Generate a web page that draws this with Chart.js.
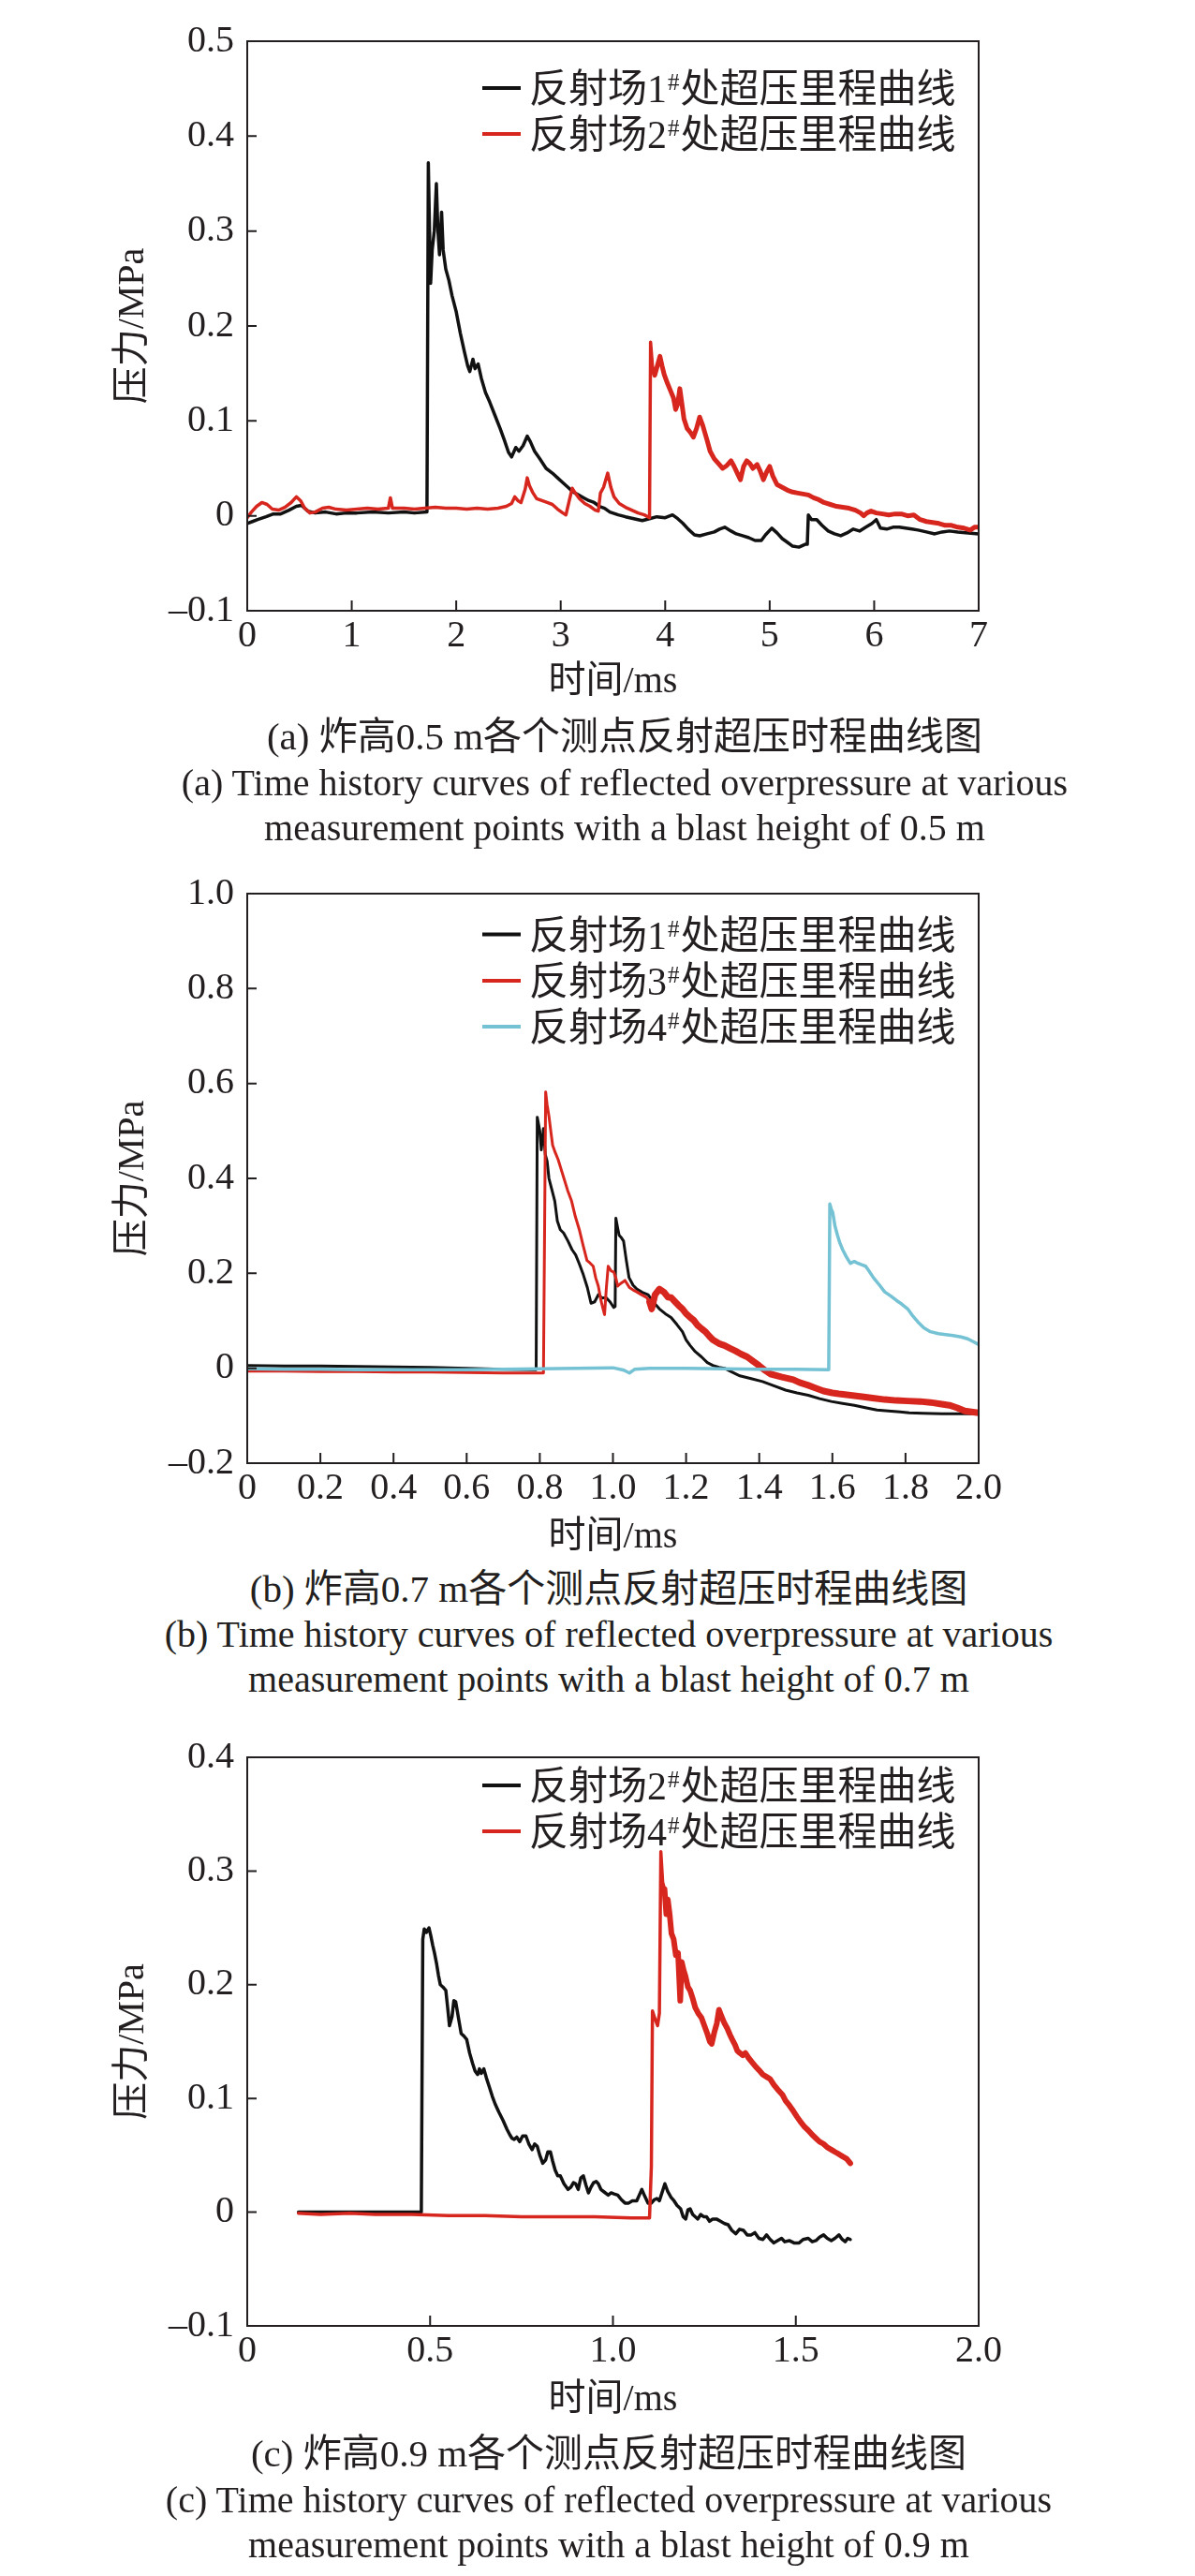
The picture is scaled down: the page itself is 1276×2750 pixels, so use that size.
<!DOCTYPE html>
<html><head><meta charset="utf-8">
<script src="https://cdn.jsdelivr.net/npm/chart.js@4.4.1/dist/chart.umd.min.js"></script>
<style>
html,body{margin:0;padding:0;background:#fff;}
#page{position:relative;width:1276px;height:2750px;overflow:hidden;}
canvas{position:absolute;left:0;}
.cap{position:absolute;width:1276px;text-align:center;color:#231f20;font-family:"Liberation Serif","Noto Sans CJK SC",serif;white-space:nowrap;}
.cn{font-size:41px;line-height:41px;}
.en{font-size:40px;line-height:40px;}
</style></head><body>
<div id="page">
<canvas id="ca" width="1276" height="770" style="top:0px;width:1276px;height:770px"></canvas>
<canvas id="cb" width="1276" height="770" style="top:900px;width:1276px;height:770px"></canvas>
<canvas id="cc" width="1276" height="770" style="top:1830px;width:1276px;height:770px"></canvas>
<div class="cap cn" style="left:29px;top:766px">(a) 炸高0.5 m各个测点反射超压时程曲线图</div>
<div class="cap en" style="left:29px;top:816px">(a) Time history curves of reflected overpressure at various</div>
<div class="cap en" style="left:29px;top:864px">measurement points with a blast height of 0.5 m</div>
<div class="cap cn" style="left:12px;top:1676px">(b) 炸高0.7 m各个测点反射超压时程曲线图</div>
<div class="cap en" style="left:12px;top:1725px">(b) Time history curves of reflected overpressure at various</div>
<div class="cap en" style="left:12px;top:1773px">measurement points with a blast height of 0.7 m</div>
<div class="cap cn" style="left:12px;top:2599px">(c) 炸高0.9 m各个测点反射超压时程曲线图</div>
<div class="cap en" style="left:12px;top:2649px">(c) Time history curves of reflected overpressure at various</div>
<div class="cap en" style="left:12px;top:2697px">measurement points with a blast height of 0.9 m</div>
</div>
<script>
// ---------------- DATA ----------------
const xTitle = '时间/ms';
const yTitle = '压力/MPa';

// (a) blast height 0.5 m
const aLabels = ['反射场1#处超压里程曲线', '反射场2#处超压里程曲线'];
const aXTicks = [0, 1, 2, 3, 4, 5, 6, 7];
const aXTickLabels = ['0', '1', '2', '3', '4', '5', '6', '7'];
const aYTicks = [-0.1, 0, 0.1, 0.2, 0.3, 0.4, 0.5];
const aYTickLabels = ['–0.1', '0', '0.1', '0.2', '0.3', '0.4', '0.5'];
const aT1 = [0.00,0.05,0.10,0.18,0.25,0.32,0.40,0.47,0.52,0.58,0.65,0.75,0.85,0.95,1.05,1.20,1.35,1.50,1.60,1.72,
  1.733,1.745,1.755,1.77,1.79,1.81,1.825,1.84,1.86,1.875,1.90,1.93,1.96,2.00,2.04,2.08,2.11,2.13,2.16,2.18,
  2.21,2.24,2.28,2.32,2.37,2.42,2.46,2.50,2.53,2.57,2.60,2.64,2.68,2.71,2.75,2.80,2.86,2.92,2.97,3.02,
  3.07,3.12,3.17,3.22,3.27,3.32,3.37,3.42,3.47,3.55,3.62,3.70,3.78,3.85,3.92,4.00,4.07,4.12,4.17,4.22,
  4.28,4.33,4.40,4.47,4.52,4.57,4.63,4.68,4.74,4.80,4.86,4.92,4.96,5.02,5.07,5.12,5.17,5.22,5.28,5.34,
  5.36,5.37,5.40,5.45,5.50,5.56,5.62,5.68,5.74,5.80,5.86,5.92,5.98,6.02,6.06,6.12,6.18,6.24,6.30,6.36,
  6.42,6.50,6.58,6.65,6.72,6.80,6.90,7.00];
const aP1 = [-0.008,-0.006,-0.004,-0.001,0.002,0.002,0.006,0.010,0.011,0.005,0.003,0.004,0.002,0.003,0.003,0.004,0.003,0.004,0.003,0.004,
  0.372,0.300,0.245,0.280,0.300,0.350,0.300,0.275,0.320,0.280,0.260,0.248,0.232,0.215,0.192,0.172,0.158,0.152,0.165,0.155,
  0.160,0.145,0.130,0.120,0.106,0.092,0.080,0.067,0.062,0.072,0.068,0.074,0.084,0.078,0.068,0.060,0.050,0.045,0.040,0.035,
  0.030,0.025,0.022,0.019,0.016,0.014,0.010,0.008,0.004,0.001,-0.001,-0.003,-0.005,-0.003,-0.001,-0.002,0.001,-0.003,-0.008,-0.014,
  -0.020,-0.021,-0.019,-0.017,-0.014,-0.012,-0.016,-0.019,-0.021,-0.023,-0.026,-0.026,-0.020,-0.013,-0.018,-0.024,-0.028,-0.032,-0.033,-0.030,
  -0.030,0.001,-0.004,-0.004,-0.010,-0.016,-0.019,-0.021,-0.018,-0.014,-0.016,-0.012,-0.008,-0.004,-0.013,-0.014,-0.012,-0.012,-0.013,-0.014,
  -0.015,-0.017,-0.019,-0.017,-0.016,-0.017,-0.018,-0.019];
const aT2 = [0.00,0.04,0.09,0.14,0.19,0.24,0.30,0.36,0.42,0.47,0.51,0.55,0.60,0.65,0.72,0.78,0.85,0.95,1.05,1.15,
  1.25,1.35,1.37,1.39,1.50,1.60,1.70,1.80,1.90,2.00,2.10,2.20,2.30,2.40,2.48,2.53,2.56,2.59,2.62,2.66,
  2.68,2.70,2.73,2.77,2.82,2.87,2.92,2.97,3.02,3.05,3.08,3.11,3.14,3.18,3.23,3.28,3.33,3.36,3.38,3.41,
  3.45,3.48,3.51,3.56,3.62,3.68,3.74,3.80,3.85,3.86,3.88,3.90,3.93,3.95,3.97,3.99,4.02,4.05,4.08,4.10,
  4.12,4.14,4.16,4.18,4.21,4.24,4.27,4.30,4.33,4.36,4.40,4.43,4.47,4.51,4.55,4.59,4.63,4.66,4.69,4.72,
  4.75,4.78,4.81,4.84,4.88,4.91,4.94,4.97,5.00,5.03,5.07,5.12,5.17,5.22,5.27,5.32,5.37,5.42,5.47,5.52,
  5.58,5.64,5.70,5.76,5.82,5.87,5.90,5.93,5.97,6.02,6.08,6.14,6.20,6.26,6.32,6.38,6.44,6.50,6.56,6.62,
  6.68,6.74,6.80,6.86,6.92,6.96,7.00];
const aP2 = [-0.002,0.004,0.010,0.014,0.012,0.007,0.006,0.009,0.014,0.020,0.016,0.008,0.003,0.004,0.008,0.009,0.007,0.006,0.007,0.008,
  0.007,0.008,0.019,0.008,0.008,0.007,0.008,0.009,0.008,0.008,0.007,0.008,0.007,0.008,0.010,0.013,0.020,0.016,0.014,0.028,
  0.040,0.032,0.025,0.018,0.016,0.014,0.012,0.007,0.003,0.001,0.015,0.029,0.024,0.018,0.013,0.010,0.006,0.005,0.024,0.030,
  0.045,0.030,0.020,0.013,0.009,0.006,0.003,0.001,-0.002,0.183,0.155,0.148,0.160,0.168,0.158,0.149,0.140,0.132,0.124,0.112,
  0.118,0.134,0.118,0.102,0.092,0.088,0.083,0.092,0.104,0.095,0.080,0.068,0.060,0.055,0.050,0.053,0.058,0.052,0.045,0.038,
  0.052,0.058,0.055,0.050,0.054,0.047,0.038,0.046,0.052,0.042,0.033,0.030,0.027,0.025,0.024,0.023,0.022,0.019,0.017,0.014,
  0.012,0.010,0.009,0.008,0.006,0.003,0.000,0.003,0.005,0.003,0.002,0.001,0.002,0.002,0.000,0.001,-0.004,-0.006,-0.007,-0.008,
  -0.010,-0.010,-0.012,-0.013,-0.015,-0.012,-0.012];

// (b) blast height 0.7 m
const bLabels = ['反射场1#处超压里程曲线', '反射场3#处超压里程曲线', '反射场4#处超压里程曲线'];
const bXTicks = [0, 0.2, 0.4, 0.6, 0.8, 1.0, 1.2, 1.4, 1.6, 1.8, 2.0];
const bXTickLabels = ['0', '0.2', '0.4', '0.6', '0.8', '1.0', '1.2', '1.4', '1.6', '1.8', '2.0'];
const bYTicks = [-0.2, 0, 0.2, 0.4, 0.6, 0.8, 1.0];
const bYTickLabels = ['–0.2', '0', '0.2', '0.4', '0.6', '0.8', '1.0'];
const bT1 = [0.00,0.10,0.20,0.30,0.40,0.50,0.60,0.70,0.79,0.793,0.80,0.804,0.81,0.815,0.82,0.825,0.829,0.835,0.841,0.848,
  0.856,0.865,0.877,0.888,0.898,0.908,0.919,0.93,0.94,0.95,0.96,0.97,0.981,0.992,1.002,1.006,1.008,1.013,1.017,1.023,
  1.029,1.036,1.044,1.055,1.065,1.08,1.096,1.11,1.127,1.143,1.159,1.175,1.19,1.20,1.211,1.225,1.242,1.258,1.273,1.29,
  1.305,1.325,1.347,1.378,1.409,1.44,1.472,1.503,1.534,1.565,1.597,1.628,1.66,1.69,1.722,1.753,1.785,1.81,1.848,1.90,
  1.95,2.00];
const bP1 = [0.006,0.005,0.005,0.004,0.003,0.002,0.000,-0.002,-0.003,0.529,0.500,0.460,0.505,0.450,0.436,0.400,0.388,0.370,0.352,0.310,
  0.292,0.285,0.268,0.250,0.239,0.220,0.197,0.170,0.137,0.140,0.155,0.148,0.149,0.140,0.128,0.130,0.316,0.295,0.280,0.275,
  0.268,0.230,0.191,0.175,0.167,0.160,0.155,0.140,0.125,0.115,0.107,0.092,0.077,0.060,0.048,0.035,0.024,0.012,0.006,0.002,
  0.000,-0.008,-0.016,-0.022,-0.028,-0.037,-0.046,-0.052,-0.057,-0.064,-0.070,-0.074,-0.078,-0.083,-0.088,-0.090,-0.092,-0.094,-0.095,-0.096,
  -0.096,-0.096];
const bT3 = [0.00,0.10,0.20,0.30,0.40,0.50,0.60,0.70,0.81,0.816,0.82,0.825,0.83,0.835,0.842,0.85,0.858,0.866,0.876,0.887,
  0.897,0.908,0.918,0.929,0.937,0.946,0.953,0.96,0.968,0.977,0.982,0.987,0.995,1.002,1.008,1.013,1.02,1.033,1.045,1.055,
  1.065,1.078,1.092,1.10,1.106,1.115,1.127,1.14,1.15,1.159,1.17,1.18,1.19,1.20,1.21,1.221,1.232,1.243,1.253,1.263,
  1.273,1.29,1.305,1.32,1.336,1.35,1.367,1.383,1.399,1.415,1.43,1.46,1.493,1.51,1.534,1.555,1.576,1.60,1.618,1.65,
  1.681,1.71,1.743,1.775,1.806,1.84,1.868,1.895,1.92,1.94,1.962,1.98,2.00];
const bP3 = [-0.006,-0.006,-0.007,-0.007,-0.008,-0.008,-0.009,-0.010,-0.010,0.582,0.555,0.531,0.500,0.470,0.455,0.440,0.420,0.400,0.375,0.352,
  0.320,0.292,0.260,0.227,0.222,0.215,0.190,0.173,0.140,0.113,0.170,0.215,0.205,0.203,0.190,0.173,0.178,0.185,0.170,0.165,
  0.161,0.155,0.149,0.140,0.125,0.155,0.167,0.160,0.150,0.149,0.140,0.132,0.125,0.115,0.108,0.101,0.090,0.083,0.077,0.068,
  0.060,0.052,0.048,0.042,0.036,0.030,0.024,0.015,0.006,-0.004,-0.012,-0.018,-0.024,-0.030,-0.036,-0.042,-0.048,-0.052,-0.054,-0.057,
  -0.060,-0.063,-0.066,-0.068,-0.069,-0.070,-0.072,-0.075,-0.078,-0.083,-0.090,-0.092,-0.094];
const bT4 = [0.00,0.10,0.20,0.30,0.40,0.50,0.60,0.70,0.80,0.90,1.00,1.03,1.045,1.06,1.10,1.20,1.30,1.40,1.50,1.59,
  1.593,1.597,1.601,1.607,1.614,1.62,1.628,1.638,1.649,1.66,1.67,1.68,1.691,1.70,1.712,1.728,1.743,1.76,1.775,1.79,
  1.806,1.82,1.837,1.85,1.868,1.89,1.91,1.93,1.952,1.97,1.985,2.00];
const bP4 = [-0.001,-0.002,-0.002,-0.003,-0.003,-0.003,-0.003,-0.002,-0.001,0.000,0.001,-0.004,-0.010,-0.002,0.000,0.000,-0.001,-0.002,-0.002,-0.003,
  0.346,0.335,0.328,0.300,0.280,0.265,0.250,0.235,0.221,0.225,0.221,0.218,0.215,0.205,0.191,0.176,0.161,0.152,0.143,0.135,
  0.125,0.110,0.095,0.085,0.077,0.073,0.071,0.069,0.066,0.062,0.056,0.050];

// (c) blast height 0.9 m
const cLabels = ['反射场2#处超压里程曲线', '反射场4#处超压里程曲线'];
const cXTicks = [0, 0.5, 1.0, 1.5, 2.0];
const cXTickLabels = ['0', '0.5', '1.0', '1.5', '2.0'];
const cYTicks = [-0.1, 0, 0.1, 0.2, 0.3, 0.4];
const cYTickLabels = ['–0.1', '0', '0.1', '0.2', '0.3', '0.4'];
const cT2 = [0.14,0.20,0.30,0.40,0.476,0.48,0.484,0.49,0.497,0.502,0.507,0.512,0.518,0.523,0.528,0.535,0.543,0.548,0.553,0.56,
  0.565,0.57,0.578,0.585,0.592,0.60,0.608,0.616,0.623,0.63,0.635,0.64,0.647,0.654,0.662,0.67,0.678,0.688,0.699,0.71,
  0.718,0.724,0.73,0.737,0.745,0.753,0.762,0.77,0.779,0.786,0.793,0.80,0.808,0.816,0.822,0.829,0.835,0.842,0.849,0.856,
  0.866,0.877,0.885,0.892,0.898,0.905,0.912,0.919,0.926,0.933,0.94,0.947,0.954,0.96,0.967,0.975,0.987,0.995,1.003,1.013,
  1.023,1.033,1.043,1.053,1.065,1.072,1.079,1.087,1.096,1.105,1.113,1.12,1.127,1.135,1.142,1.15,1.159,1.167,1.175,1.185,
  1.192,1.199,1.205,1.211,1.218,1.225,1.232,1.24,1.248,1.256,1.264,1.273,1.283,1.294,1.305,1.315,1.325,1.336,1.346,1.357,
  1.367,1.378,1.388,1.399,1.41,1.42,1.43,1.44,1.45,1.461,1.47,1.482,1.495,1.509,1.52,1.534,1.545,1.555,1.565,1.576,
  1.586,1.597,1.607,1.618,1.627,1.635,1.642,1.649];
const cP2 = [0.000,0.000,0.000,0.000,0.000,0.240,0.249,0.246,0.250,0.243,0.235,0.228,0.218,0.208,0.200,0.198,0.195,0.180,0.164,0.172,
  0.186,0.185,0.170,0.157,0.155,0.152,0.140,0.131,0.124,0.121,0.126,0.122,0.126,0.118,0.110,0.102,0.095,0.088,0.081,0.073,
  0.068,0.065,0.064,0.066,0.062,0.067,0.067,0.060,0.055,0.060,0.058,0.050,0.043,0.046,0.053,0.053,0.045,0.037,0.032,0.032,
  0.025,0.020,0.022,0.026,0.025,0.020,0.030,0.032,0.024,0.017,0.022,0.026,0.027,0.025,0.020,0.018,0.015,0.017,0.016,0.015,
  0.011,0.008,0.008,0.010,0.010,0.015,0.020,0.014,0.008,0.008,0.011,0.012,0.010,0.018,0.025,0.018,0.013,0.010,0.006,0.003,
  -0.004,-0.006,0.002,0.003,-0.002,-0.004,-0.006,-0.002,-0.004,-0.004,-0.008,-0.006,-0.006,-0.008,-0.010,-0.011,-0.016,-0.019,-0.015,-0.016,
  -0.020,-0.020,-0.018,-0.023,-0.024,-0.020,-0.024,-0.027,-0.025,-0.023,-0.026,-0.025,-0.027,-0.027,-0.024,-0.023,-0.026,-0.025,-0.022,-0.020,
  -0.023,-0.025,-0.023,-0.020,-0.024,-0.026,-0.023,-0.024];
const cT4 = [0.14,0.20,0.28,0.35,0.45,0.55,0.65,0.75,0.85,0.95,1.05,1.10,1.105,1.108,1.115,1.122,1.127,1.131,1.136,1.141,
  1.146,1.150,1.155,1.160,1.166,1.172,1.178,1.184,1.188,1.193,1.198,1.205,1.211,1.218,1.225,1.233,1.242,1.25,1.258,1.265,
  1.27,1.277,1.284,1.29,1.297,1.305,1.312,1.320,1.326,1.334,1.34,1.347,1.355,1.362,1.37,1.38,1.39,1.399,1.41,1.42,
  1.43,1.44,1.45,1.464,1.472,1.482,1.493,1.503,1.514,1.524,1.534,1.545,1.555,1.565,1.576,1.586,1.597,1.607,1.618,1.628,
  1.639,1.649];
const cP4 = [-0.001,-0.002,-0.001,-0.002,-0.002,-0.003,-0.003,-0.004,-0.004,-0.004,-0.005,-0.005,0.040,0.177,0.170,0.164,0.175,0.317,0.290,0.284,
  0.262,0.275,0.262,0.245,0.240,0.226,0.228,0.186,0.220,0.213,0.208,0.198,0.195,0.188,0.180,0.175,0.171,0.164,0.157,0.150,
  0.148,0.158,0.166,0.178,0.172,0.166,0.162,0.156,0.152,0.147,0.142,0.140,0.138,0.140,0.136,0.132,0.128,0.125,0.121,0.119,
  0.117,0.112,0.108,0.103,0.098,0.094,0.089,0.084,0.079,0.075,0.072,0.068,0.065,0.062,0.060,0.057,0.055,0.053,0.051,0.049,
  0.047,0.043];

// ---------------- STYLE ----------------
const INK = '#231f20';
const BLACK = '#111111';
const RED = '#d7261e';
const CYAN = '#74c2d3';
const SERIF = '"Liberation Serif","Noto Sans CJK SC",serif';

function pts(t, p) { return t.map((v, i) => ({ x: v, y: p[i] })); }

const framePlugin = {
  id: 'frameTicks',
  afterDatasetsDraw(chart) {
    const { ctx, chartArea: a, scales: { x, y } } = chart;
    ctx.save();
    ctx.strokeStyle = INK;
    ctx.lineWidth = 2;
    ctx.strokeRect(a.left, a.top, a.right - a.left, a.bottom - a.top);
    ctx.beginPath();
    x.ticks.forEach(t => {
      const px = x.getPixelForValue(t.value);
      if (px > a.left + 2 && px < a.right - 2) { ctx.moveTo(px, a.bottom); ctx.lineTo(px, a.bottom - 11); }
    });
    y.ticks.forEach(t => {
      const py = y.getPixelForValue(t.value);
      if (py > a.top + 2 && py < a.bottom - 2) { ctx.moveTo(a.left, py); ctx.lineTo(a.left + 10, py); }
    });
    ctx.stroke();
    ctx.restore();
  }
};

const legendPlugin = {
  id: 'inLegend',
  afterDraw(chart) {
    const o = chart.options.plugins.inLegend;
    const { ctx } = chart;
    ctx.save();
    chart.data.datasets.forEach((ds, i) => {
      const yy = o.rows[i];
      ctx.strokeStyle = ds.borderColor;
      ctx.lineWidth = 4;
      ctx.beginPath(); ctx.moveTo(515, yy); ctx.lineTo(556, yy); ctx.stroke();
      const parts = ds.label.split('#');
      const base = yy + 15;
      let x = 565;
      ctx.fillStyle = INK;
      ctx.textBaseline = 'alphabetic';
      ctx.textAlign = 'left';
      ctx.font = '42px ' + SERIF;
      ctx.fillText(parts[0], x, base); x += ctx.measureText(parts[0]).width + 1;
      ctx.font = '25px ' + SERIF;
      ctx.fillText('#', x, base - 13); x += ctx.measureText('#').width + 1;
      ctx.font = '42px ' + SERIF;
      ctx.fillText(parts[1], x, base);
    });
    ctx.restore();
  }
};

function makeChart(id, c) {
  return new Chart(document.getElementById(id), {
    type: 'line',
    data: { datasets: c.datasets },
    plugins: [framePlugin, legendPlugin],
    options: {
      responsive: false,
      animation: false,
      devicePixelRatio: 1,
      layout: { padding: { left: 100, right: 231, top: c.padTop, bottom: 0 } },
      elements: { point: { radius: 0 }, line: { tension: 0, borderJoinStyle: 'round', borderCapStyle: 'round' } },
      plugins: { legend: { display: false }, tooltip: { enabled: false }, inLegend: { rows: c.rows } },
      scales: {
        x: {
          type: 'linear', min: c.xMin, max: c.xMax,
          afterBuildTicks: s => { s.ticks = c.xTicks.map(v => ({ value: v })); },
          afterFit: s => { s.height = c.xH; },
          ticks: { callback: (v, i) => c.xLabels[i], font: { family: SERIF, size: 40, lineHeight: 1.2 }, color: INK, padding: 3, maxRotation: 0, autoSkip: false },
          grid: { display: false, drawTicks: false },
          border: { display: false },
          title: { display: true, text: xTitle, color: INK, font: { family: SERIF, size: 40, lineHeight: 1.2 }, padding: { top: 0, bottom: c.xTitlePad } }
        },
        y: {
          type: 'linear', min: c.yMin, max: c.yMax,
          afterBuildTicks: s => { s.ticks = c.yTicks.map(v => ({ value: v })); },
          afterFit: s => { s.width = 164; },
          ticks: { callback: (v, i) => c.yLabels[i], font: { family: SERIF, size: 40, lineHeight: 1.2 }, color: INK, padding: 14, autoSkip: false },
          grid: { display: false, drawTicks: false },
          border: { display: false },
          title: { display: true, text: yTitle, color: INK, font: { family: SERIF, size: 40, lineHeight: 1.2 }, padding: { top: 18, bottom: 0 } }
        }
      }
    }
  });
}

function wide(from, thin, thick) {
  return { borderWidth: ctx => (ctx.p0.parsed.x >= from ? thick : thin) };
}

makeChart('ca', {
  padTop: 44, xH: 118, xTitlePad: 18, rows: [94, 143],
  xMin: 0, xMax: 7, yMin: -0.1, yMax: 0.5,
  xTicks: aXTicks, xLabels: aXTickLabels, yTicks: aYTicks, yLabels: aYTickLabels,
  datasets: [
    { label: aLabels[0], data: pts(aT1, aP1), borderColor: BLACK, borderWidth: 3.5, order: 1 },
    { label: aLabels[1], data: pts(aT2, aP2), borderColor: RED, borderWidth: 3.5, order: 0, segment: wide(3.87, 3.5, 5) }
  ]
});

makeChart('cb', {
  padTop: 54, xH: 108, xTitlePad: 5, rows: [97.6, 147, 196],
  xMin: 0, xMax: 2, yMin: -0.2, yMax: 1.0,
  xTicks: bXTicks, xLabels: bXTickLabels, yTicks: bYTicks, yLabels: bYTickLabels,
  datasets: [
    { label: bLabels[0], data: pts(bT1, bP1), borderColor: BLACK, borderWidth: 3, order: 2 },
    { label: bLabels[1], data: pts(bT3, bP3), borderColor: RED, borderWidth: 3, order: 1, segment: wide(1.1, 3, 7) },
    { label: bLabels[2], data: pts(bT4, bP4), borderColor: CYAN, borderWidth: 3.5, order: 0 }
  ]
});

makeChart('cc', {
  padTop: 46, xH: 117, xTitlePad: 14, rows: [76, 125],
  xMin: 0, xMax: 2, yMin: -0.1, yMax: 0.4,
  xTicks: cXTicks, xLabels: cXTickLabels, yTicks: cYTicks, yLabels: cYTickLabels,
  datasets: [
    { label: cLabels[0], data: pts(cT2, cP2), borderColor: BLACK, borderWidth: 3.5, order: 1 },
    { label: cLabels[1], data: pts(cT4, cP4), borderColor: RED, borderWidth: 3.5, order: 0, segment: wide(1.14, 3.5, 6) }
  ]
});
</script>
</body></html>
